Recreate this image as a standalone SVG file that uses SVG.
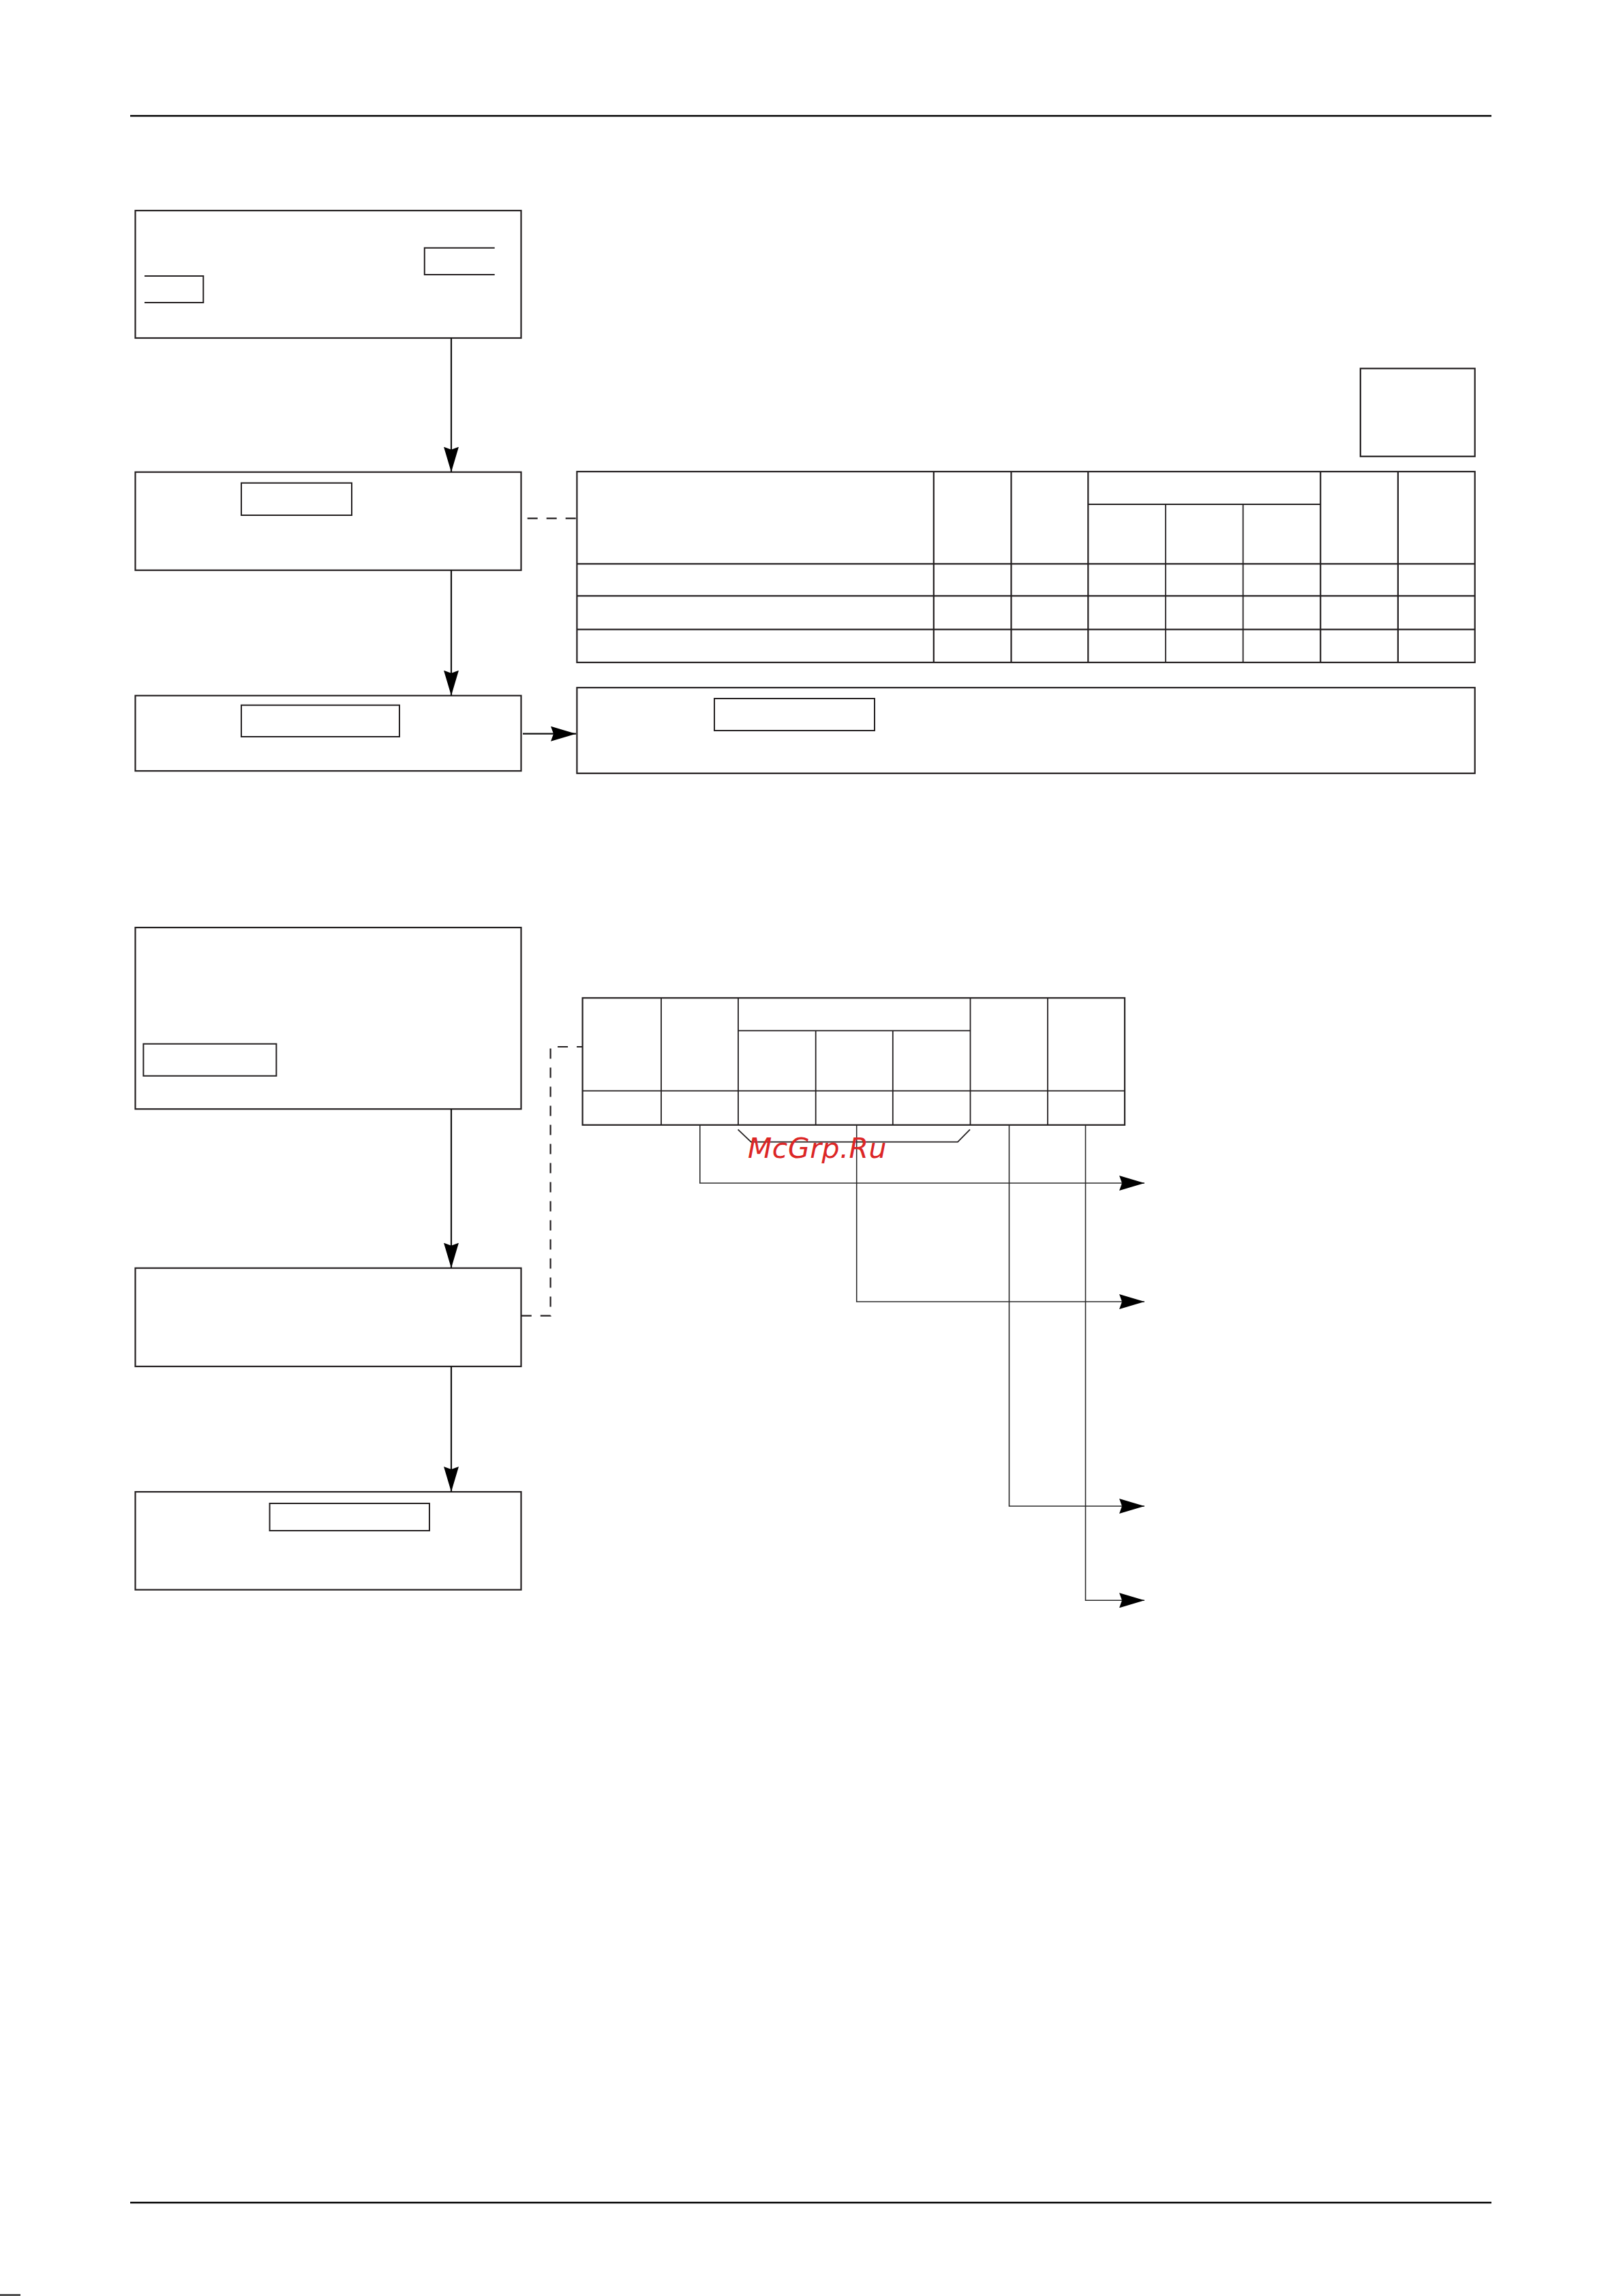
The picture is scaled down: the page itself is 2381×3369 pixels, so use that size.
<svg xmlns="http://www.w3.org/2000/svg" width="2381" height="3369" viewBox="0 0 2381 3369">
<style>
.box{fill:#fff;stroke:#231f20;stroke-width:2.2}
.inner{fill:none;stroke:#231f20;stroke-width:2}
.tbl{fill:none;stroke:#231f20;stroke-width:2.2}
.thin{fill:none;stroke:#231f20;stroke-width:1.8}
.conn{fill:none;stroke:#111;stroke-width:2.2}
.lconn{fill:none;stroke:#2b2b2b;stroke-width:1.6}
.dash{fill:none;stroke:#231f20;stroke-width:2.2;stroke-dasharray:15 13}
.rule{stroke:#000;stroke-width:2.4}
.wm{font-family:"DejaVu Sans",sans-serif;font-style:italic;font-size:41px;letter-spacing:0.5px;fill:#dc2626}
</style>
<defs>
<marker id="ah" viewBox="0 0 37 22" markerWidth="37" markerHeight="22" refX="37" refY="11" orient="auto" markerUnits="userSpaceOnUse">
<path d="M0,0 L37,11 L0,22 L4,11 Z" fill="#000"/>
</marker>
</defs>
<rect width="2381" height="3369" fill="#fff"/>
<line class="rule" x1="191" y1="170" x2="2188" y2="170"/>
<line class="rule" x1="191" y1="3232" x2="2188" y2="3232"/>
<line x1="0" y1="3367.5" x2="30" y2="3367.5" stroke="#000" stroke-width="2"/>

<g id="node1">
<rect class="box" x="198.5" y="309" width="566" height="187"/>
<path class="inner" d="M725.7,363.7 H622.8 V403 H725.7"/>
<path class="inner" d="M212,405 H298.3 V444 H212"/>
</g>
<g id="node2">
<rect class="box" x="198.5" y="692.7" width="566" height="144"/>
<rect class="inner" x="354" y="708.7" width="162" height="47.3"/>
</g>
<g id="node3">
<rect class="box" x="198.5" y="1020.7" width="566" height="110.5"/>
<rect class="inner" x="354" y="1034.7" width="232" height="46.3"/>
</g>
<g id="node4">
<rect class="box" x="846.4" y="1009" width="1317.3" height="125.7"/>
<rect class="inner" x="1048" y="1025" width="235" height="47"/>
</g>
<g id="smallbox">
<rect class="box" x="1995.8" y="540.7" width="167.9" height="129"/>
</g>
<g id="table1">
<rect class="tbl" x="846.4" y="692" width="1317.3" height="280"/>
<path class="tbl" d="M846.4,827.3 H2163.7 M846.4,874.3 H2163.7 M846.4,923.7 H2163.7"/>
<path class="tbl" d="M1369.8,692 V972 M1483.5,692 V972 M1596.3,692 V972 M1937.2,692 V972 M2050.9,692 V972"/>
<path class="thin" d="M1596.3,740 H1937.2 M1710,740 V972 M1823.6,740 V972"/>
</g>
<g id="node5">
<rect class="box" x="198.5" y="1361" width="566" height="266.3"/>
<rect class="inner" x="210.4" y="1531.7" width="195" height="47"/>
</g>
<g id="node7">
<rect class="box" x="198.5" y="1860.7" width="566" height="144.3"/>
</g>
<g id="node6">
<rect class="box" x="198.5" y="2189" width="566" height="143.7"/>
<rect class="inner" x="395.6" y="2206" width="234.4" height="40"/>
</g>
<g id="table2">
<rect class="tbl" x="854.6" y="1464.3" width="795.4" height="186.4"/>
<path class="thin" d="M854.6,1600.7 H1650"/>
<path class="thin" d="M970,1464.3 V1650.7 M1083,1464.3 V1650.7 M1423.5,1464.3 V1650.7 M1537,1464.3 V1650.7"/>
<path class="thin" d="M1083,1512.3 H1423.5 M1196.7,1512.3 V1650.7 M1309.8,1512.3 V1650.7"/>
<path class="thin" d="M1082.6,1657.3 L1101.8,1675.7 H1405 L1423,1657.3"/>
</g>
<g id="connectors">
<line class="conn" x1="662" y1="495.7" x2="662" y2="692.7" marker-end="url(#ah)"/>
<line class="conn" x1="662" y1="836.7" x2="662" y2="1020.7" marker-end="url(#ah)"/>
<line class="conn" x1="767" y1="1076.7" x2="845" y2="1076.7" marker-end="url(#ah)"/>
<line class="conn" x1="662" y1="1627.3" x2="662" y2="1860.7" marker-end="url(#ah)"/>
<line class="conn" x1="662" y1="2005" x2="662" y2="2189" marker-end="url(#ah)"/>
<line class="dash" x1="773.7" y1="760.7" x2="846.4" y2="760.7"/>
<path class="dash" d="M764.8,1930.7 H807.6 V1536 H854.6"/>
<path class="lconn" d="M1026.8,1650.7 V1736 H1679" marker-end="url(#ah)"/>
<path class="lconn" d="M1256.7,1650.7 V1910 H1679" marker-end="url(#ah)"/>
<path class="lconn" d="M1480.5,1650.7 V2210 H1679" marker-end="url(#ah)"/>
<path class="lconn" d="M1592.5,1650.7 V2348.3 H1679" marker-end="url(#ah)"/>
</g>
<text class="wm" x="1097" y="1699">McGrp.Ru</text>
</svg>
